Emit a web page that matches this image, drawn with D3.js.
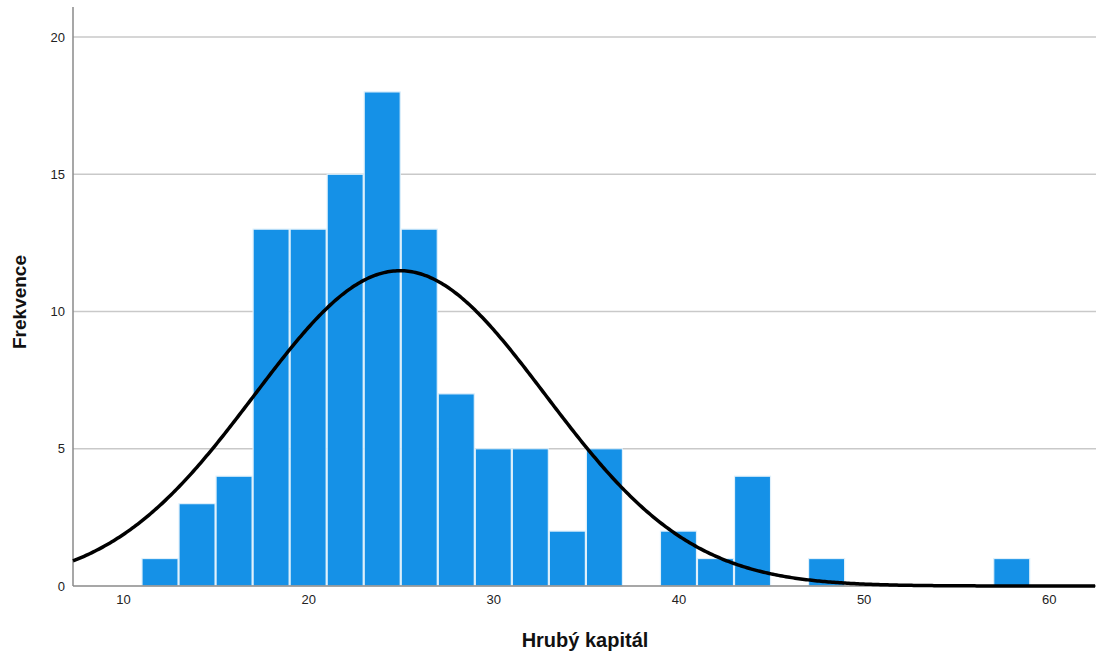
<!DOCTYPE html>
<html>
<head>
<meta charset="utf-8">
<script src="https://cdn.jsdelivr.net/npm/d3@7"></script>
<style>
  body { margin: 0; background: #fff; }
  svg { display: block; font-family: "Liberation Sans", Arial, sans-serif; }
</style>
</head>
<body>
<svg id="chart" width="1096" height="655"></svg>
<script>
// histogram bins (lower edge, width 2) and counts
var binStarts = [11, 13, 15, 17, 19, 21, 23, 25, 27, 29, 31, 33, 35, 37, 39, 41, 43, 45, 47, 49, 51, 53, 55, 57];
var counts    = [1, 3, 4, 13, 13, 15, 18, 13, 7, 5, 5, 2, 5, 0, 2, 1, 4, 0, 1, 0, 0, 0, 0, 1];
var binWidth = 2;
var xTicks = [10, 20, 30, 40, 50, 60];
var yTicks = [0, 5, 10, 15, 20];
// normal fit shown by SPSS
var mean = 24.96, sd = 7.85, n = 113;

var svg = d3.select("#chart");
var plotLeft = 73, plotRight = 1096, plotTop = 7, plotBottom = 586;

var x = d3.scaleLinear().domain([7.3, 62.55]).range([plotLeft, plotRight]);
var y = d3.scaleLinear().domain([0, 20]).range([plotBottom, 37]);

// grid lines
svg.append("g")
  .selectAll("line")
  .data(yTicks.filter(function (d) { return d > 0; }))
  .enter()
  .append("line")
  .attr("x1", plotLeft)
  .attr("x2", plotRight)
  .attr("y1", function (d) { return y(d); })
  .attr("y2", function (d) { return y(d); })
  .style("stroke", "#c9c9c9")
  .style("stroke-width", 1.3);

// bars
var data = binStarts.map(function (b, i) { return { x0: b, x1: b + binWidth, count: counts[i] }; })
  .filter(function (d) { return d.count > 0; });

svg.append("g")
  .selectAll("rect")
  .data(data)
  .enter()
  .append("rect")
  .attr("x", function (d) { return x(d.x0) + 0.5; })
  .attr("y", function (d) { return y(d.count); })
  .attr("width", function (d) { return x(d.x1) - x(d.x0) - 1; })
  .attr("height", function (d) { return y(0) - y(d.count); })
  .style("fill", "#1591e7")
  .style("stroke", "#dff0fb")
  .style("stroke-width", 1.2);

// axes
var yAxis = svg.append("g")
  .attr("transform", "translate(" + plotLeft + ",0)")
  .call(d3.axisLeft(y).tickValues(yTicks).tickSize(0).tickPadding(8));
yAxis.select(".domain").remove();
yAxis.selectAll("text").style("font-size", "13px").style("fill", "#222");

var xAxis = svg.append("g")
  .attr("transform", "translate(0," + plotBottom + ")")
  .call(d3.axisBottom(x).tickValues(xTicks).tickSize(0).tickPadding(9));
xAxis.select(".domain").remove();
xAxis.selectAll("text").style("font-size", "13px").style("fill", "#222");

svg.append("line")
  .attr("x1", plotLeft).attr("x2", plotLeft)
  .attr("y1", plotTop).attr("y2", plotBottom)
  .style("stroke", "#8a8a8a").style("stroke-width", 1.5);
svg.append("line")
  .attr("x1", plotLeft).attr("x2", plotRight)
  .attr("y1", plotBottom).attr("y2", plotBottom)
  .style("stroke", "#8a8a8a").style("stroke-width", 1.5);

// normal curve
var curvePts = d3.range(7.3, 62.56, 0.1).map(function (v) {
  var z = (v - mean) / sd;
  return [v, n * binWidth / (sd * Math.sqrt(2 * Math.PI)) * Math.exp(-0.5 * z * z)];
});
svg.append("path")
  .datum(curvePts)
  .attr("d", d3.line()
    .x(function (d) { return x(d[0]); })
    .y(function (d) { return y(d[1]); }))
  .style("fill", "none")
  .style("stroke", "#000")
  .style("stroke-width", 3.5);

// titles
svg.append("text")
  .attr("x", 585)
  .attr("y", 647)
  .attr("text-anchor", "middle")
  .style("font-size", "20px")
  .style("font-weight", "bold")
  .style("fill", "#111")
  .text("Hrubý kapitál");

svg.append("text")
  .attr("transform", "translate(26,302) rotate(-90)")
  .attr("text-anchor", "middle")
  .style("font-size", "19px")
  .style("font-weight", "bold")
  .style("fill", "#111")
  .text("Frekvence");
</script>
</body>
</html>
